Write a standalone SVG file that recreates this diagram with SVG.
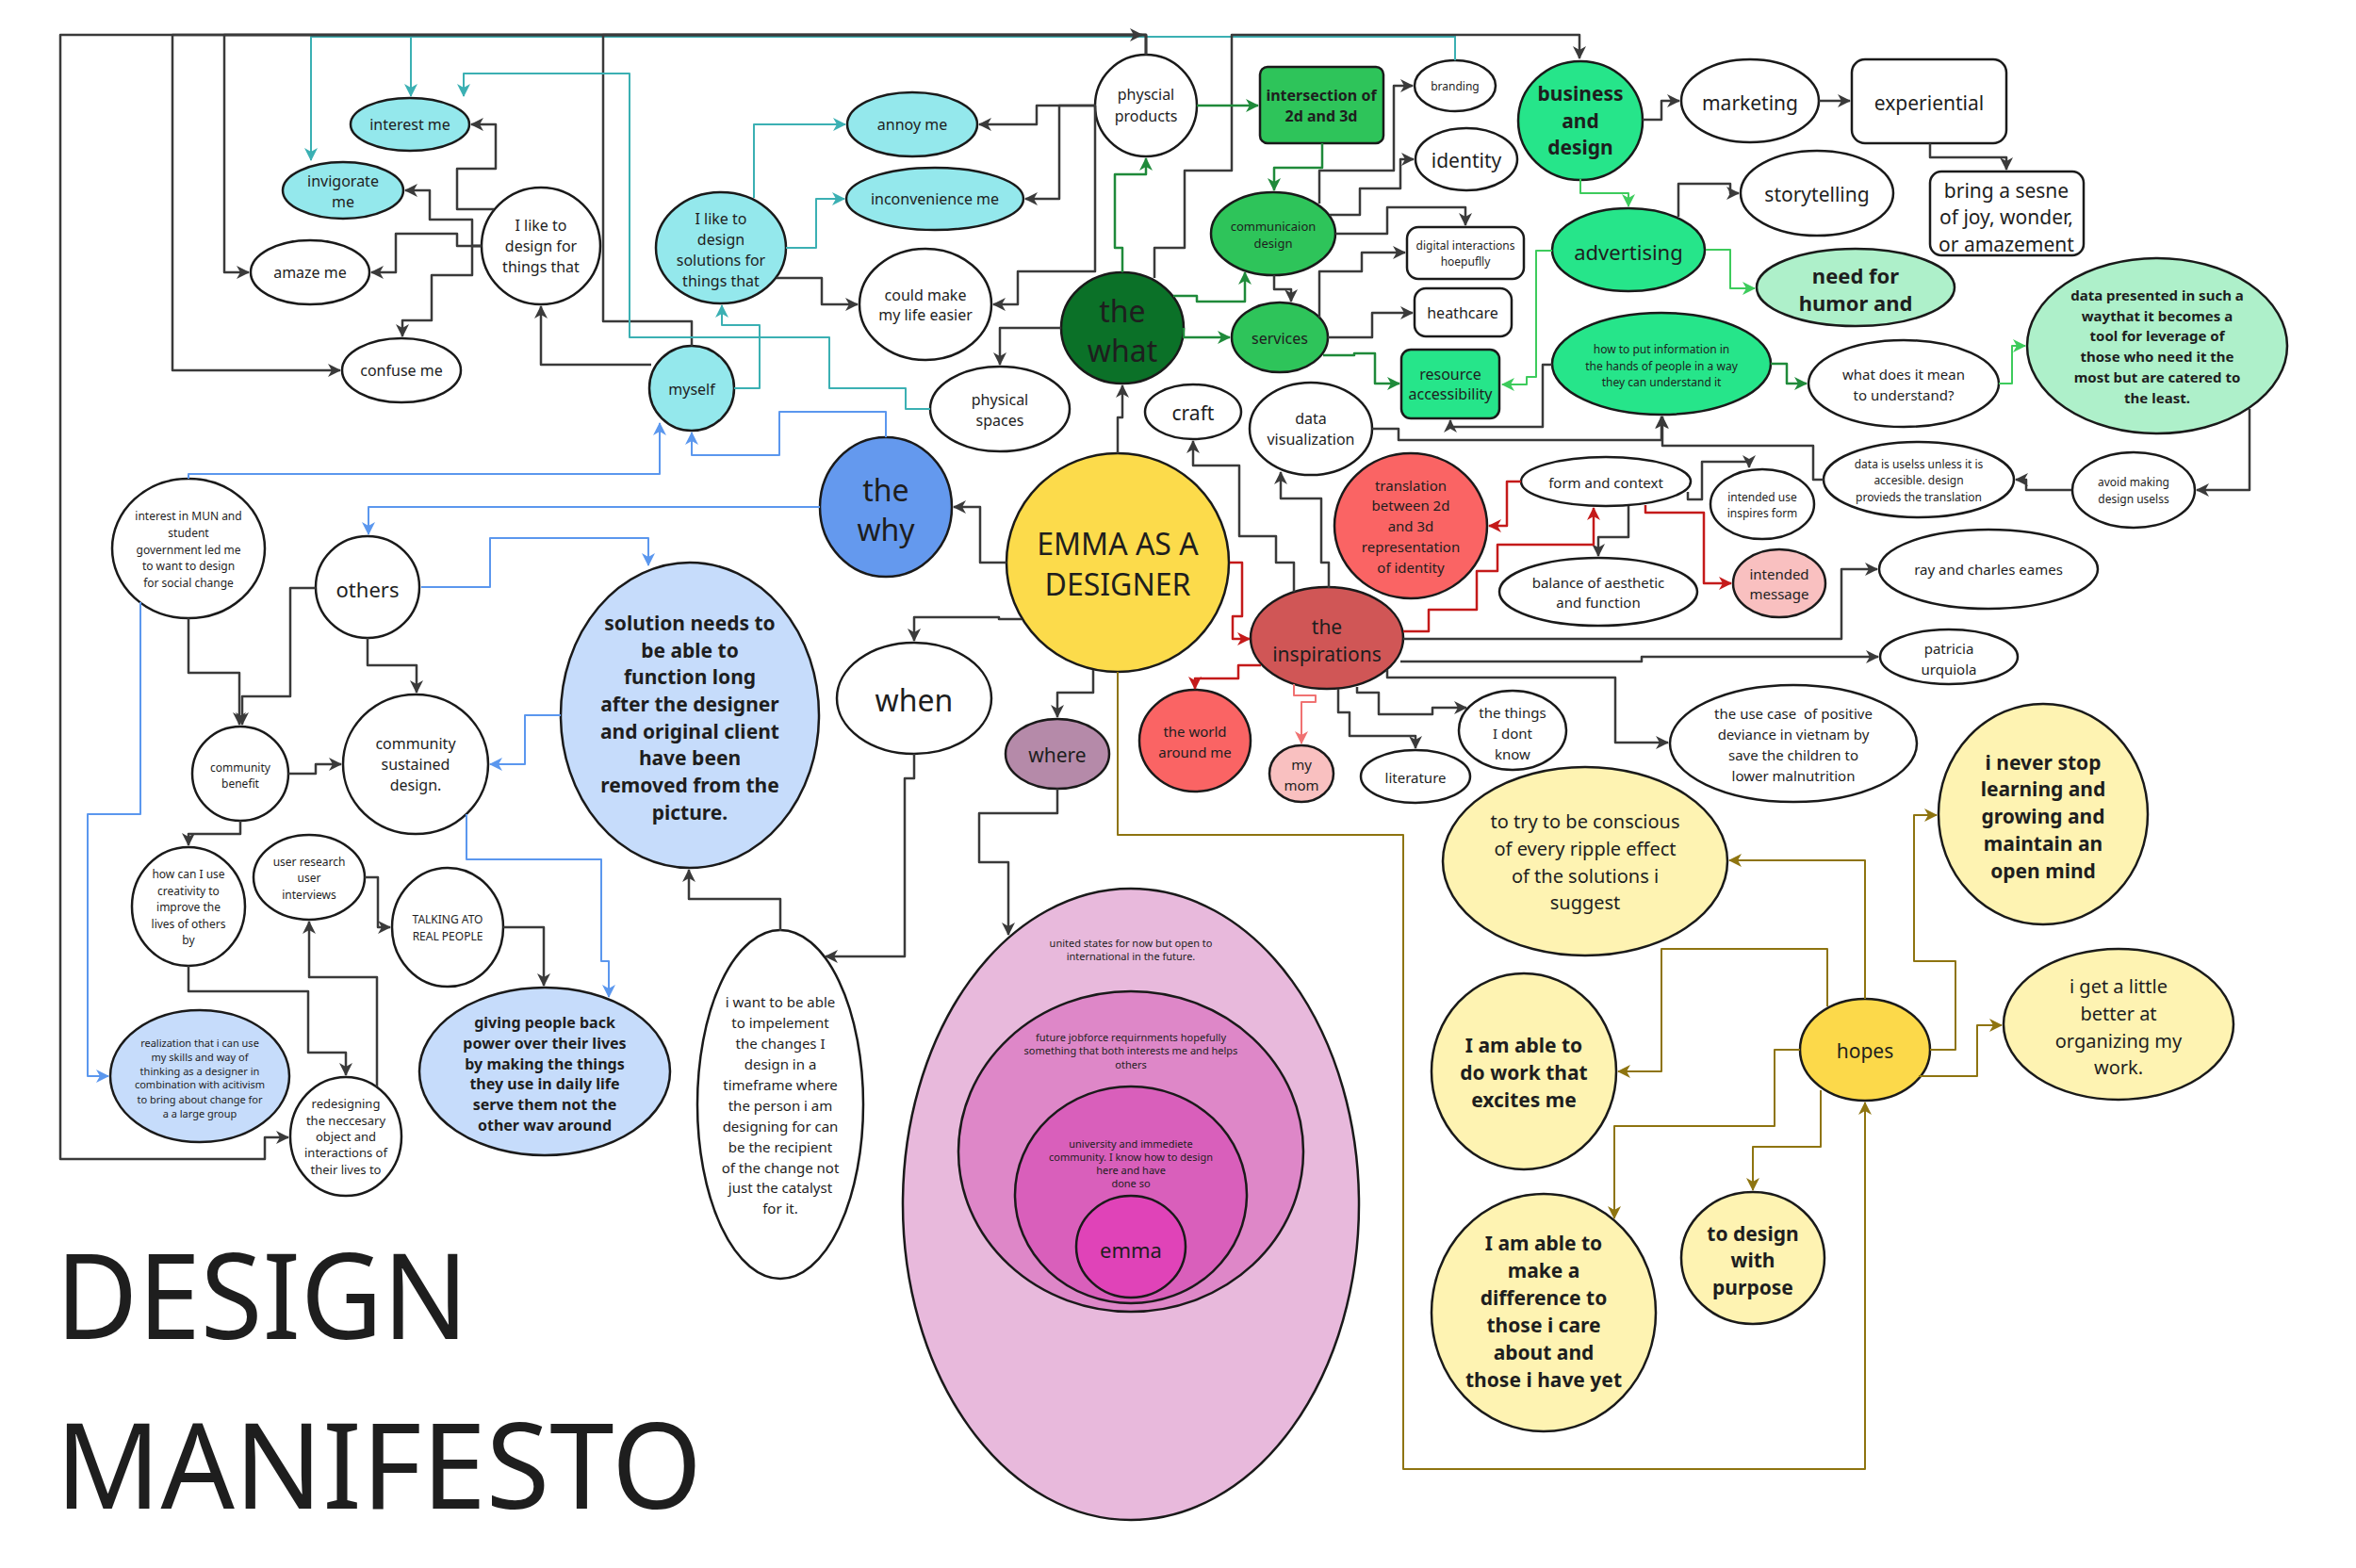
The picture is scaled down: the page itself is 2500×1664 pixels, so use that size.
<svg xmlns="http://www.w3.org/2000/svg" width="2500" height="1664" viewBox="0 0 2500 1664">
<style>
.n{stroke:#1a1a1a;stroke-width:2.5}
.w{fill:#fff}.cy{fill:#94E8EC}.g1{fill:#2EC45A}.g2{fill:#26E58A}.g3{fill:#AEF0CA}.gd{fill:#0B7128}
.bl{fill:#6499EE}.lb{fill:#C6DCFB}.ye{fill:#FCDB4B}.ly{fill:#FEF3B2}.pu{fill:#B58AA9}
.rd{fill:#FA6464}.ri{fill:#D05656}.pk{fill:#F9C0C0}
.t{font-family:'Noto Sans','Open Sans','DejaVu Sans',sans-serif;fill:#1e1e1e;text-anchor:middle;dominant-baseline:central}
.b{font-weight:bold}
.e{fill:none;stroke-linejoin:round;stroke-linecap:butt}
.dk{stroke:#3a3a3a;stroke-width:2.5;marker-end:url(#adk)}
.tl{stroke:#3BB0B3;stroke-width:2;marker-end:url(#atl)}
.bu{stroke:#5B97EE;stroke-width:2;marker-end:url(#abu)}
.gn{stroke:#1F8A3A;stroke-width:2.5;marker-end:url(#agn)}
.lg{stroke:#3DCB5C;stroke-width:2;marker-end:url(#alg)}
.re{stroke:#C41A1A;stroke-width:2.5;marker-end:url(#are)}
.lr{stroke:#F07272;stroke-width:2;marker-end:url(#alr)}
.go{stroke:#8E7410;stroke-width:2;marker-end:url(#ago)}
</style>
<defs>
<marker id="adk" markerUnits="userSpaceOnUse" markerWidth="14" markerHeight="14" refX="13" refY="7" orient="auto"><path d="M0,0 L14,7 L0,14 L4,7 Z" fill="#3a3a3a"/></marker>
<marker id="atl" markerUnits="userSpaceOnUse" markerWidth="14" markerHeight="14" refX="13" refY="7" orient="auto"><path d="M0,0 L14,7 L0,14 L4,7 Z" fill="#3BB0B3"/></marker>
<marker id="abu" markerUnits="userSpaceOnUse" markerWidth="14" markerHeight="14" refX="13" refY="7" orient="auto"><path d="M0,0 L14,7 L0,14 L4,7 Z" fill="#5B97EE"/></marker>
<marker id="agn" markerUnits="userSpaceOnUse" markerWidth="14" markerHeight="14" refX="13" refY="7" orient="auto"><path d="M0,0 L14,7 L0,14 L4,7 Z" fill="#1F8A3A"/></marker>
<marker id="alg" markerUnits="userSpaceOnUse" markerWidth="14" markerHeight="14" refX="13" refY="7" orient="auto"><path d="M0,0 L14,7 L0,14 L4,7 Z" fill="#3DCB5C"/></marker>
<marker id="are" markerUnits="userSpaceOnUse" markerWidth="14" markerHeight="14" refX="13" refY="7" orient="auto"><path d="M0,0 L14,7 L0,14 L4,7 Z" fill="#C41A1A"/></marker>
<marker id="alr" markerUnits="userSpaceOnUse" markerWidth="14" markerHeight="14" refX="13" refY="7" orient="auto"><path d="M0,0 L14,7 L0,14 L4,7 Z" fill="#F07272"/></marker>
<marker id="ago" markerUnits="userSpaceOnUse" markerWidth="14" markerHeight="14" refX="13" refY="7" orient="auto"><path d="M0,0 L14,7 L0,14 L4,7 Z" fill="#8E7410"/></marker>
</defs>
<rect width="2500" height="1664" fill="#fff"/>

<g id="nodes">
<g id="n-interest-me"><ellipse class="n cy" cx="435" cy="132" rx="63" ry="28"/><text class="t" x="435" y="132" font-size="16">interest me</text></g>
<g id="n-invigorate-me"><ellipse class="n cy" cx="364" cy="202" rx="64" ry="30"/><text class="t" font-size="16"><tspan x="364" y="192">invigorate</tspan><tspan x="364" y="214">me</tspan></text></g>
<g id="n-amaze-me"><ellipse class="n w" cx="329" cy="289" rx="63" ry="34"/><text class="t" x="329" y="289" font-size="16">amaze me</text></g>
<g id="n-confuse-me"><ellipse class="n w" cx="426" cy="393" rx="63" ry="34"/><text class="t" x="426" y="393" font-size="16">confuse me</text></g>
<g id="n-like-design-for"><ellipse class="n w" cx="574" cy="261" rx="63" ry="62"/><text class="t" font-size="16"><tspan x="574" y="239">I like to</tspan><tspan x="574" y="261">design for</tspan><tspan x="574" y="283">things that</tspan></text></g>
<g id="n-myself"><ellipse class="n cy" cx="734" cy="412" rx="45" ry="45"/><text class="t" x="734" y="413" font-size="16">myself</text></g>
<g id="n-like-solutions"><ellipse class="n cy" cx="765" cy="263" rx="69" ry="59"/><text class="t" font-size="16"><tspan x="765" y="232">I like to</tspan><tspan x="765" y="254">design</tspan><tspan x="765" y="276">solutions for</tspan><tspan x="765" y="298">things that</tspan></text></g>
<g id="n-annoy-me"><ellipse class="n cy" cx="968" cy="132" rx="69" ry="34"/><text class="t" x="968" y="132" font-size="16">annoy me</text></g>
<g id="n-inconvenience-me"><ellipse class="n cy" cx="992" cy="211" rx="94" ry="33"/><text class="t" x="992" y="211" font-size="16">inconvenience me</text></g>
<g id="n-could-make"><ellipse class="n w" cx="982" cy="323" rx="70" ry="59"/><text class="t" font-size="16"><tspan x="982" y="313">could make</tspan><tspan x="982" y="334">my life easier</tspan></text></g>
<g id="n-physcial-products"><ellipse class="n w" cx="1216" cy="112" rx="54" ry="54"/><text class="t" font-size="16"><tspan x="1216" y="100">physcial</tspan><tspan x="1216" y="123">products</tspan></text></g>
<g id="n-intersection"><rect class="n g1" x="1337" y="71" width="131" height="81" rx="8"/><text class="t b" font-size="16"><tspan x="1402" y="101">intersection of</tspan><tspan x="1402" y="123">2d and 3d</tspan></text></g>
<g id="n-branding"><ellipse class="n w" cx="1544" cy="91" rx="43" ry="27"/><text class="t" x="1544" y="91" font-size="12">branding</text></g>
<g id="n-identity"><ellipse class="n w" cx="1556" cy="169" rx="54" ry="33"/><text class="t" x="1556" y="170" font-size="21">identity</text></g>
<g id="n-comm-design"><ellipse class="n g1" cx="1351" cy="248" rx="66" ry="44"/><text class="t" font-size="13"><tspan x="1351" y="240">communicaion</tspan><tspan x="1351" y="258">design</tspan></text></g>
<g id="n-digital"><rect class="n w" x="1493" y="241" width="124" height="55" rx="12"/><text class="t" font-size="12"><tspan x="1555" y="260">digital interactions</tspan><tspan x="1555" y="277">hoepuflly</tspan></text></g>
<g id="n-heathcare"><rect class="n w" x="1501" y="306" width="103" height="51" rx="12"/><text class="t" x="1552" y="332" font-size="16">heathcare</text></g>
<g id="n-services"><ellipse class="n g1" cx="1358" cy="358" rx="51" ry="37"/><text class="t" x="1358" y="359" font-size="16">services</text></g>
<g id="n-resource"><rect class="n g2" x="1487" y="371" width="104" height="73" rx="10"/><text class="t" font-size="16"><tspan x="1539" y="397">resource</tspan><tspan x="1539" y="418">accessibility</tspan></text></g>
<g id="n-the-what"><ellipse class="n gd" cx="1191" cy="348" rx="65" ry="59"/><text class="t" font-size="32"><tspan x="1191" y="329">the</tspan><tspan x="1191" y="371">what</tspan></text></g>
<g id="n-physical-spaces"><ellipse class="n w" cx="1061" cy="434" rx="74" ry="45"/><text class="t" font-size="16"><tspan x="1061" y="424">physical</tspan><tspan x="1061" y="446">spaces</tspan></text></g>
<g id="n-craft"><ellipse class="n w" cx="1266" cy="437" rx="51" ry="29"/><text class="t" x="1266" y="438" font-size="21">craft</text></g>
<g id="n-dataviz"><ellipse class="n w" cx="1391" cy="455" rx="65" ry="49"/><text class="t" font-size="16"><tspan x="1391" y="444">data</tspan><tspan x="1391" y="466">visualization</tspan></text></g>
<g id="n-business"><ellipse class="n g2" cx="1677" cy="128" rx="66" ry="63"/><text class="t b" font-size="21"><tspan x="1677" y="99">business</tspan><tspan x="1677" y="128">and</tspan><tspan x="1677" y="156">design</tspan></text></g>
<g id="n-marketing"><ellipse class="n w" cx="1857" cy="107" rx="73" ry="44"/><text class="t" x="1857" y="109" font-size="21">marketing</text></g>
<g id="n-experiential"><rect class="n w" x="1965" y="63" width="164" height="89" rx="14"/><text class="t" x="2047" y="109" font-size="21">experiential</text></g>
<g id="n-bring"><rect class="n w" x="2048" y="182" width="163" height="89" rx="12"/><text class="t" font-size="21"><tspan x="2129" y="202">bring a sesne</tspan><tspan x="2129" y="230">of joy, wonder,</tspan><tspan x="2129" y="259">or amazement</tspan></text></g>
<g id="n-storytelling"><ellipse class="n w" cx="1928" cy="205" rx="81" ry="45"/><text class="t" x="1928" y="206" font-size="21">storytelling</text></g>
<g id="n-advertising"><ellipse class="n g2" cx="1728" cy="265" rx="81" ry="44"/><text class="t" x="1728" y="267" font-size="22">advertising</text></g>
<g id="n-need-humor"><ellipse class="n g3" cx="1969" cy="305" rx="105" ry="41"/><text class="t b" font-size="22"><tspan x="1969" y="292">need for</tspan><tspan x="1969" y="321">humor and</tspan></text></g>
<g id="n-how-to"><ellipse class="n g2" cx="1763" cy="386" rx="116" ry="54"/><text class="t" font-size="12"><tspan x="1763" y="370">how to put information in</tspan><tspan x="1763" y="388">the hands of people in a way</tspan><tspan x="1763" y="405">they can understand it</tspan></text></g>
<g id="n-what-mean"><ellipse class="n w" cx="2020" cy="407" rx="101" ry="46"/><text class="t" font-size="15"><tspan x="2020" y="397">what does it mean</tspan><tspan x="2020" y="419">to understand?</tspan></text></g>
<g id="n-data-presented"><ellipse class="n g3" cx="2289" cy="367" rx="138" ry="93"/><text class="t b" font-size="15"><tspan x="2289" y="313">data presented in such a</tspan><tspan x="2289" y="335">waythat it becomes a</tspan><tspan x="2289" y="356">tool for leverage of</tspan><tspan x="2289" y="378">those who need it the</tspan><tspan x="2289" y="400">most but are catered to</tspan><tspan x="2289" y="422">the least.</tspan></text></g>
<g id="n-data-useless"><ellipse class="n w" cx="2036" cy="509" rx="101" ry="40"/><text class="t" font-size="12"><tspan x="2036" y="492">data is uselss unless it is</tspan><tspan x="2036" y="509">accesible. design</tspan><tspan x="2036" y="527">provieds the translation</tspan></text></g>
<g id="n-avoid"><ellipse class="n w" cx="2264" cy="520" rx="65" ry="40"/><text class="t" font-size="12"><tspan x="2264" y="511">avoid making</tspan><tspan x="2264" y="529">design uselss</tspan></text></g>
<g id="n-form-context"><ellipse class="n w" cx="1704" cy="511" rx="90" ry="26"/><text class="t" x="1704" y="512" font-size="15">form and context</text></g>
<g id="n-intended-use"><ellipse class="n w" cx="1870" cy="535" rx="55" ry="37"/><text class="t" font-size="12"><tspan x="1870" y="527">intended use</tspan><tspan x="1870" y="544">inspires form</tspan></text></g>
<g id="n-translation"><ellipse class="n rd" cx="1497" cy="558" rx="81" ry="77"/><text class="t" font-size="15"><tspan x="1497" y="515">translation</tspan><tspan x="1497" y="536">between 2d</tspan><tspan x="1497" y="558">and 3d</tspan><tspan x="1497" y="580">representation</tspan><tspan x="1497" y="602">of identity</tspan></text></g>
<g id="n-balance"><ellipse class="n w" cx="1696" cy="628" rx="105" ry="36"/><text class="t" font-size="15"><tspan x="1696" y="618">balance of aesthetic</tspan><tspan x="1696" y="639">and function</tspan></text></g>
<g id="n-intended-message"><ellipse class="n pk" cx="1888" cy="619" rx="49" ry="36"/><text class="t" font-size="15"><tspan x="1888" y="609">intended</tspan><tspan x="1888" y="630">message</tspan></text></g>
<g id="n-ray"><ellipse class="n w" cx="2110" cy="604" rx="116" ry="42"/><text class="t" x="2110" y="604" font-size="15">ray and charles eames</text></g>
<g id="n-patricia"><ellipse class="n w" cx="2068" cy="697" rx="73" ry="29"/><text class="t" font-size="15"><tspan x="2068" y="688">patricia</tspan><tspan x="2068" y="710">urquiola</tspan></text></g>
<g id="n-the-things"><ellipse class="n w" cx="1605" cy="775" rx="57" ry="42"/><text class="t" font-size="15"><tspan x="1605" y="756">the things</tspan><tspan x="1605" y="778">I dont</tspan><tspan x="1605" y="800">know</tspan></text></g>
<g id="n-use-case"><ellipse class="n w" cx="1903" cy="789" rx="131" ry="62"/><text class="t" font-size="15" xml:space="preserve"><tspan x="1903" y="757">the use case  of positive</tspan><tspan x="1903" y="779">deviance in vietnam by</tspan><tspan x="1903" y="801">save the children to</tspan><tspan x="1903" y="823">lower malnutrition</tspan></text></g>
<g id="n-never-stop"><ellipse class="n ly" cx="2168" cy="864" rx="111" ry="117"/><text class="t b" font-size="21"><tspan x="2168" y="809">i never stop</tspan><tspan x="2168" y="837">learning and</tspan><tspan x="2168" y="866">growing and</tspan><tspan x="2168" y="895">maintain an</tspan><tspan x="2168" y="924">open mind</tspan></text></g>
<g id="n-conscious"><ellipse class="n ly" cx="1682" cy="914" rx="151" ry="100"/><text class="t" font-size="20"><tspan x="1682" y="871">to try to be conscious</tspan><tspan x="1682" y="900">of every ripple effect</tspan><tspan x="1682" y="929">of the solutions i</tspan><tspan x="1682" y="957">suggest</tspan></text></g>
<g id="n-the-why"><ellipse class="n bl" cx="940" cy="538" rx="70" ry="74"/><text class="t" font-size="32"><tspan x="940" y="519">the</tspan><tspan x="940" y="561">why</tspan></text></g>
<g id="n-emma-designer"><ellipse class="n ye" cx="1186" cy="597" rx="118" ry="116"/><text class="t" font-size="32"><tspan x="1186" y="576">EMMA AS A</tspan><tspan x="1186" y="619">DESIGNER</tspan></text></g>
<g id="n-when"><ellipse class="n w" cx="970" cy="741" rx="82" ry="59"/><text class="t" x="970" y="742" font-size="32">when</text></g>
<g id="n-where"><ellipse class="n pu" cx="1122" cy="800" rx="55" ry="37"/><text class="t" x="1122" y="801" font-size="21">where</text></g>
<g id="n-inspirations"><ellipse class="n ri" cx="1408" cy="677" rx="81" ry="54"/><text class="t" font-size="21"><tspan x="1408" y="665">the</tspan><tspan x="1408" y="694">inspirations</tspan></text></g>
<g id="n-world"><ellipse class="n rd" cx="1268" cy="786" rx="59" ry="54"/><text class="t" font-size="15"><tspan x="1268" y="776">the world</tspan><tspan x="1268" y="798">around me</tspan></text></g>
<g id="n-my-mom"><ellipse class="n pk" cx="1381" cy="821" rx="34" ry="30"/><text class="t" font-size="15"><tspan x="1381" y="811">my</tspan><tspan x="1381" y="833">mom</tspan></text></g>
<g id="n-literature"><ellipse class="n w" cx="1502" cy="824" rx="58" ry="28"/><text class="t" x="1502" y="825" font-size="15">literature</text></g>
<g id="n-mun"><ellipse class="n w" cx="200" cy="582" rx="81" ry="74"/><text class="t" font-size="12"><tspan x="200" y="547">interest in MUN and</tspan><tspan x="200" y="565">student</tspan><tspan x="200" y="583">government led me</tspan><tspan x="200" y="600">to want to design</tspan><tspan x="200" y="618">for social change</tspan></text></g>
<g id="n-others"><ellipse class="n w" cx="390" cy="623" rx="55" ry="54"/><text class="t" x="390" y="625" font-size="22">others</text></g>
<g id="n-solution"><ellipse class="n lb" cx="732" cy="759" rx="137" ry="162"/><text class="t b" font-size="21"><tspan x="732" y="661">solution needs to</tspan><tspan x="732" y="690">be able to</tspan><tspan x="732" y="718">function long</tspan><tspan x="732" y="747">after the designer</tspan><tspan x="732" y="776">and original client</tspan><tspan x="732" y="804">have been</tspan><tspan x="732" y="833">removed from the</tspan><tspan x="732" y="862">picture.</tspan></text></g>
<g id="n-community-benefit"><ellipse class="n w" cx="255" cy="821" rx="51" ry="50"/><text class="t" font-size="12"><tspan x="255" y="814">community</tspan><tspan x="255" y="831">benefit</tspan></text></g>
<g id="n-community-sustained"><ellipse class="n w" cx="441" cy="811" rx="77" ry="74"/><text class="t" font-size="16"><tspan x="441" y="789">community</tspan><tspan x="441" y="811">sustained</tspan><tspan x="441" y="833">design.</tspan></text></g>
<g id="n-how-can"><ellipse class="n w" cx="200" cy="962" rx="60" ry="63"/><text class="t" font-size="12"><tspan x="200" y="927">how can I use</tspan><tspan x="200" y="945">creativity to</tspan><tspan x="200" y="962">improve the</tspan><tspan x="200" y="980">lives of others</tspan><tspan x="200" y="997">by</tspan></text></g>
<g id="n-user-research"><ellipse class="n w" cx="328" cy="931" rx="59" ry="45"/><text class="t" font-size="12"><tspan x="328" y="914">user research</tspan><tspan x="328" y="931">user</tspan><tspan x="328" y="949">interviews</tspan></text></g>
<g id="n-talking"><ellipse class="n w" cx="475" cy="984" rx="59" ry="63"/><text class="t" font-size="12"><tspan x="475" y="975">TALKING ATO</tspan><tspan x="475" y="993">REAL PEOPLE</tspan></text></g>
<g id="n-realization"><ellipse class="n lb" cx="212" cy="1142" rx="95" ry="70"/><text class="t" font-size="11"><tspan x="212" y="1106">realization that i can use</tspan><tspan x="212" y="1121">my skills and way of</tspan><tspan x="212" y="1136">thinking as a designer in</tspan><tspan x="212" y="1150">combination with acitivism</tspan><tspan x="212" y="1166">to bring about change for</tspan><tspan x="212" y="1181">a a large group</tspan></text></g>
<g id="n-redesigning"><ellipse class="n w" cx="367" cy="1206" rx="59" ry="63"/><text class="t" font-size="13"><tspan x="367" y="1171">redesigning</tspan><tspan x="367" y="1189">the neccesary</tspan><tspan x="367" y="1206">object and</tspan><tspan x="367" y="1223">interactions of</tspan><tspan x="367" y="1241">their lives to</tspan></text></g>
<g id="n-giving"><ellipse class="n lb" cx="578" cy="1137" rx="133" ry="89"/><text class="t b" font-size="16"><tspan x="578" y="1085">giving people back</tspan><tspan x="578" y="1107">power over their lives</tspan><tspan x="578" y="1129">by making the things</tspan><tspan x="578" y="1150">they use in daily life</tspan><tspan x="578" y="1172">serve them not the</tspan><tspan x="578" y="1194">other wav around</tspan></text></g>
<g id="n-i-want"><ellipse class="n w" cx="828" cy="1172" rx="88" ry="185"/><text class="t" font-size="15"><tspan x="828" y="1063">i want to be able</tspan><tspan x="828" y="1085">to impelement</tspan><tspan x="828" y="1107">the changes I</tspan><tspan x="828" y="1129">design in a</tspan><tspan x="828" y="1151">timeframe where</tspan><tspan x="828" y="1173">the person i am</tspan><tspan x="828" y="1195">designing for can</tspan><tspan x="828" y="1217">be the recipient</tspan><tspan x="828" y="1239">of the change not</tspan><tspan x="828" y="1260">just the catalyst</tspan><tspan x="828" y="1282">for it.</tspan></text></g>
<g id="n-onion">
<ellipse class="n" fill="#E8B9DC" cx="1200" cy="1278" rx="242" ry="335"/>
<text class="t" font-size="11"><tspan x="1200" y="1000">united states for now but open to</tspan><tspan x="1200" y="1014">international in the future.</tspan></text>
<ellipse class="n" fill="#DE87C8" cx="1200" cy="1222" rx="183" ry="170"/>
<text class="t" font-size="11"><tspan x="1200" y="1100">future jobforce requirnments hopefully</tspan><tspan x="1200" y="1114">something that both interests me and helps</tspan><tspan x="1200" y="1129">others</tspan></text>
<ellipse class="n" fill="#D95FBB" cx="1200" cy="1268" rx="123" ry="115"/>
<text class="t" font-size="11"><tspan x="1200" y="1213">university and immediete</tspan><tspan x="1200" y="1227">community. I  know how to design</tspan><tspan x="1200" y="1241">here and have</tspan><tspan x="1200" y="1255">done so</tspan></text>
<ellipse class="n" fill="#E043B8" cx="1200" cy="1323" rx="58" ry="54"/>
<text class="t" x="1200" y="1326" font-size="22">emma</text>
</g>
<g id="n-hopes"><ellipse class="n" fill="#FCD94A" cx="1979" cy="1114" rx="69" ry="54"/><text class="t" x="1979" y="1115" font-size="21">hopes</text></g>
<g id="n-able-work"><ellipse class="n ly" cx="1617" cy="1137" rx="98" ry="104"/><text class="t b" font-size="21"><tspan x="1617" y="1109">I am able to</tspan><tspan x="1617" y="1138">do work that</tspan><tspan x="1617" y="1167">excites me</tspan></text></g>
<g id="n-able-difference"><ellipse class="n ly" cx="1638" cy="1393" rx="119" ry="126"/><text class="t b" font-size="21"><tspan x="1638" y="1319">I am able to</tspan><tspan x="1638" y="1348">make a</tspan><tspan x="1638" y="1377">difference to</tspan><tspan x="1638" y="1406">those i care</tspan><tspan x="1638" y="1435">about and</tspan><tspan x="1638" y="1464">those i have yet</tspan></text></g>
<g id="n-design-purpose"><ellipse class="n ly" cx="1860" cy="1335" rx="76" ry="70"/><text class="t b" font-size="21"><tspan x="1860" y="1309">to design</tspan><tspan x="1860" y="1337">with</tspan><tspan x="1860" y="1366">purpose</tspan></text></g>
<g id="n-little-better"><ellipse class="n ly" cx="2248" cy="1087" rx="122" ry="80"/><text class="t" font-size="20"><tspan x="2248" y="1046">i get a little</tspan><tspan x="2248" y="1075">better at</tspan><tspan x="2248" y="1104">organizing my</tspan><tspan x="2248" y="1132">work.</tspan></text></g>
</g>

<g id="connectors">
<path class="e tl" d="M1544,64 V39 H436 V102"/>
<path class="e tl" d="M1544,64 V39 H330 V170"/>
<path class="e dk" d="M1216,58 V37 H64 V1230 H281 V1207 H306"/>
<path class="e dk" d="M1216,58 V37 H183 V393 H361"/>
<path class="e dk" d="M1216,58 V37 H238 V289 H264"/>
<path class="e dk" d="M734,367 V341 H640 V37 H1212"/>
<path class="e dk" d="M1225,295 V263 H1257 V181 H1307 V37 H1676 V62"/>
<path class="e dk" d="M691,387 H574 V325"/>
<path class="e dk" d="M524,222 H485 V179 H526 V132 H500"/>
<path class="e dk" d="M511,261 H501 V233 H456 V202 H430"/>
<path class="e dk" d="M511,261 H485 V248 H420 V289 H394"/>
<path class="e dk" d="M511,261 H501 V292 H458 V340 H427 V357"/>
<path class="e dk" d="M824,295 H872 V323 H910"/>
<path class="e dk" d="M1163,112 H1100 V132 H1039"/>
<path class="e dk" d="M1163,112 H1124 V211 H1088"/>
<path class="e dk" d="M1162,112 V288 H1080 V323 H1054"/>
<path class="e dk" d="M1126,348 H1061 V387"/>
<path class="e dk" d="M1352,292 V307 H1370 V320"/>
<path class="e dk" d="M1400,216 V181 H1479 V91 H1499"/>
<path class="e dk" d="M1411,228 H1443 V200 H1486 V169 H1500"/>
<path class="e dk" d="M1417,248 H1472 V220 H1555 V239"/>
<path class="e dk" d="M1400,337 V288 H1445 V268 H1491"/>
<path class="e dk" d="M1409,358 H1456 V332 H1499"/>
<path class="e dk" d="M1647,387 H1637 V453 H1539 V446"/>
<path class="e dk" d="M1456,455 H1484 V467 H1763 V442"/>
<path class="e dk" d="M1935,509 H1924 V473 H1764 V442"/>
<path class="e dk" d="M1743,127 H1763 V107 H1782"/>
<path class="e dk" d="M1930,107 H1963"/>
<path class="e dk" d="M2048,152 V167 H2129 V180"/>
<path class="e dk" d="M1781,230 V195 H1836 V205 H1845"/>
<path class="e dk" d="M2387,434 V520 H2331"/>
<path class="e dk" d="M2198,520 H2150 V509 H2139"/>
<path class="e dk" d="M1791,522 V530 H1806 V490 H1856 V496"/>
<path class="e dk" d="M1728,537 V570 H1696 V590"/>
<path class="e dk" d="M1420,731 V756 H1432 V781 H1502 V794"/>
<path class="e dk" d="M1440,729 V735 H1463 V758 H1520 V751 H1556"/>
<path class="e dk" d="M1472,711 V719 H1714 V788 H1770"/>
<path class="e dk" d="M1486,702 H1742 V697 H1993"/>
<path class="e dk" d="M1489,678 H1954 V604 H1992"/>
<path class="e dk" d="M1373,628 V597 H1354 V569 H1315 V494 H1266 V468"/>
<path class="e dk" d="M1410,624 V597 H1402 V529 H1359 V501"/>
<path class="e dk" d="M1068,597 H1040 V538 H1012"/>
<path class="e dk" d="M1186,481 V443 H1191 V409"/>
<path class="e dk" d="M1084,657 H1060 V655 H970 V680"/>
<path class="e dk" d="M1160,711 V735 H1122 V761"/>
<path class="e dk" d="M1122,837 V863 H1039 V915 H1070 V992"/>
<path class="e dk" d="M970,800 V826 H960 V1015 H876"/>
<path class="e dk" d="M828,988 V954 H731 V923"/>
<path class="e dk" d="M200,656 V714 H254 V769"/>
<path class="e dk" d="M335,624 H308 V739 H257 V769"/>
<path class="e dk" d="M390,677 V706 H442 V735"/>
<path class="e dk" d="M306,821 H335 V811 H362"/>
<path class="e dk" d="M255,871 V885 H200 V897"/>
<path class="e dk" d="M200,1025 V1052 H327 V1117 H367 V1141"/>
<path class="e dk" d="M400,1153 V1037 H328 V978"/>
<path class="e dk" d="M387,931 H401 V984 H414"/>
<path class="e dk" d="M534,984 H577 V1046"/>
<path class="e tl" d="M987,434 H961 V412 H880 V358 H668 V78 H492 V102"/>
<path class="e tl" d="M779,412 H806 V345 H766 V324"/>
<path class="e tl" d="M800,210 V132 H897"/>
<path class="e tl" d="M834,263 H866 V211 H896"/>
<path class="e bu" d="M200,508 V503 H700 V449"/>
<path class="e bu" d="M940,464 V437 H827 V483 H734 V459"/>
<path class="e bu" d="M870,538 H391 V567"/>
<path class="e bu" d="M447,623 H520 V571 H688 V600"/>
<path class="e bu" d="M595,759 H557 V811 H520"/>
<path class="e bu" d="M495,864 V912 H638 V1020 H646 V1058"/>
<path class="e bu" d="M149,639 V864 H93 V1142 H115"/>
<path class="e gn" d="M1191,289 V263 H1183 V185 H1216 V168"/>
<path class="e gn" d="M1270,112 H1335"/>
<path class="e gn" d="M1403,152 V178 H1352 V202"/>
<path class="e gn" d="M1245,314 H1270 V320 H1321 V289"/>
<path class="e gn" d="M1256,348 V358 H1305"/>
<path class="e gn" d="M1404,377 H1437 V375 H1459 V407 H1485"/>
<path class="e gn" d="M1879,386 H1896 V407 H1917"/>
<path class="e lg" d="M1677,190 V205 H1728 V219"/>
<path class="e lg" d="M1647,266 H1630 V400 H1620 V408 H1594"/>
<path class="e lg" d="M1810,265 H1836 V306 H1862"/>
<path class="e lg" d="M2121,407 H2135 V367 H2149"/>
<path class="e re" d="M1305,597 H1318 V654 H1308 V678 H1326"/>
<path class="e re" d="M1489,670 H1516 V647 H1567 V606 H1589 V578 H1691 V539"/>
<path class="e re" d="M1614,511 H1599 V558 H1580"/>
<path class="e re" d="M1746,536 V544 H1808 V619 H1837"/>
<path class="e re" d="M1338,706 H1314 V720 H1268 V731"/>
<path class="e lr" d="M1373,726 V738 H1396 V745 H1381 V789"/>
<path class="e go" d="M1186,713 V886 H1489 V1559 H1979 V1170"/>
<path class="e go" d="M1979,1060 V913 H1835"/>
<path class="e go" d="M2048,1114 H2075 V1020 H2031 V865 H2055"/>
<path class="e go" d="M2036,1142 H2098 V1088 H2124"/>
<path class="e go" d="M1939,1068 V1007 H1763 V1137 H1717"/>
<path class="e go" d="M1910,1114 H1883 V1195 H1713 V1293"/>
<path class="e go" d="M1932,1157 V1217 H1860 V1263"/>
</g>

<g id="title">
<text x="59" y="1421" font-family="'Noto Sans','Open Sans',sans-serif" font-size="126" fill="#1e1e1e" textLength="438" lengthAdjust="spacingAndGlyphs">DESIGN</text>
<text x="59" y="1601" font-family="'Noto Sans','Open Sans',sans-serif" font-size="126" fill="#1e1e1e" textLength="686" lengthAdjust="spacingAndGlyphs">MANIFESTO</text>
</g>
</svg>
